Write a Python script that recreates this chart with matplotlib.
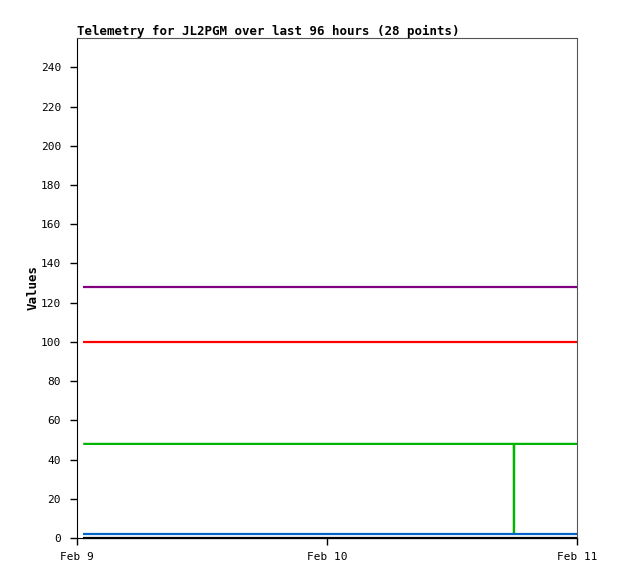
import matplotlib
matplotlib.use("Agg")
import matplotlib.pyplot as plt
import matplotlib.dates as mdates
from datetime import datetime

times = ["2024-02-09 00:36", "2024-02-09 02:20", "2024-02-09 04:05", "2024-02-09 05:50",
         "2024-02-09 07:35", "2024-02-09 09:20", "2024-02-09 11:05", "2024-02-09 12:50",
         "2024-02-09 14:35", "2024-02-09 16:20", "2024-02-09 18:05", "2024-02-09 19:50",
         "2024-02-09 21:35", "2024-02-09 23:20", "2024-02-10 01:05", "2024-02-10 02:50",
         "2024-02-10 04:35", "2024-02-10 06:20", "2024-02-10 08:05", "2024-02-10 09:50",
         "2024-02-10 11:35", "2024-02-10 13:20", "2024-02-10 15:05", "2024-02-10 16:50",
         "2024-02-10 17:56", "2024-02-10 17:57", "2024-02-10 17:58", "2024-02-11 00:00"]
purple = [128] * 28
red = [100] * 28
green = [48] * 25 + [2] + [48] * 2
blue = [2] * 28
black = [0] * 28

tick_dates = ["2024-02-09", "2024-02-10", "2024-02-11"]
tick_labels = ["Feb 9", "Feb 10", "Feb 11"]
y_ticks = list(range(0, 260, 20))

x = [mdates.date2num(datetime.strptime(t, "%Y-%m-%d %H:%M")) for t in times]
xt = [mdates.date2num(datetime.strptime(t, "%Y-%m-%d")) for t in tick_dates]

mono = "DejaVu Sans Mono"
fig = plt.figure(figsize=(6.18, 5.79), dpi=100)
ax = fig.add_axes([77/618, 41/579, 500/618, 500/579])

lw = 1.6
ax.plot(x, purple, color="#800080", lw=lw, solid_capstyle="butt")
ax.plot(x, red, color="#ff0000", lw=lw, solid_capstyle="butt")
ax.plot(x, green, color="#00b400", lw=lw, solid_capstyle="butt")
ax.plot(x, blue, color="#0064c8", lw=lw, solid_capstyle="butt")
ax.plot(x, black, color="#000000", lw=lw, solid_capstyle="butt", clip_on=False)

ax.set_xlim(xt[0], xt[-1])
ax.set_ylim(0, 255)
ax.set_xticks(xt)
ax.set_xticklabels(tick_labels, fontfamily=mono, fontsize=8)
ax.set_yticks(y_ticks)
ax.set_yticklabels([str(v) for v in y_ticks], fontfamily=mono, fontsize=8)
ax.tick_params(axis="both", direction="out", length=5, width=1, color="black")
ax.tick_params(axis="y", pad=6.5)
ax.tick_params(axis="x", pad=5)

for s in ["left", "bottom"]:
    ax.spines[s].set_color("black")
for s in ["top", "right"]:
    ax.spines[s].set_color("#555555")

ax.set_ylabel("Values", fontfamily=mono, fontsize=9, fontweight="bold", labelpad=0.5)
ax.set_title("Telemetry for JL2PGM over last 96 hours (28 points)", fontfamily=mono,
             fontsize=9, fontweight="bold", loc="left", pad=2)

fig.savefig("out.png", dpi=100)
